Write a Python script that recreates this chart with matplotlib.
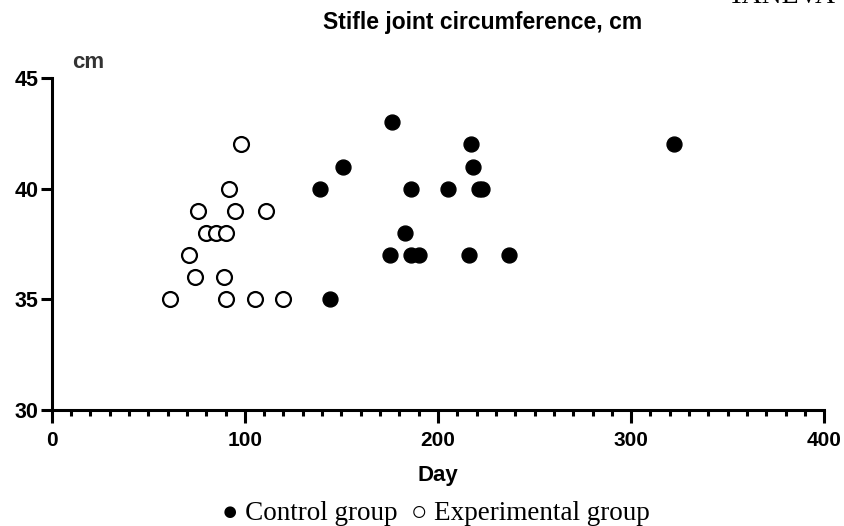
import numpy as np
import matplotlib.pyplot as plt
from matplotlib.ticker import MultipleLocator

# Control group (filled circles): day, circumference (cm)
control_day = [176, 217, 151, 218, 139, 186, 205, 221, 223, 183, 175, 186, 190, 216, 237, 144, 322]
control_cm = [43, 42, 41, 41, 40, 40, 40, 40, 40, 38, 37, 37, 37, 37, 37, 35, 42]

# Experimental group (open circles)
exp_day = [61, 90, 105, 120, 74, 89, 71, 80, 85, 90, 76, 95, 111, 92, 98]
exp_cm = [35, 35, 35, 35, 36, 36, 37, 38, 38, 38, 39, 39, 39, 40, 42]

x_ticks = [0, 100, 200, 300, 400]
y_ticks = [30, 35, 40, 45]

plt.rcParams['font.family'] = ['Liberation Sans', 'DejaVu Sans']

fig = plt.figure(figsize=(8.44, 5.26), dpi=100)
ax = fig.add_axes([51.7 / 844, 116 / 526, (824.3 - 51.7) / 844, (410 - 78) / 526])

ax.scatter(exp_day, exp_cm, s=115, facecolors='white', edgecolors='black', linewidths=1.6, zorder=3, clip_on=False)
ax.scatter(control_day, control_cm, s=115, facecolors='black', edgecolors='black', linewidths=1.0, zorder=4, clip_on=False)

ax.set_xlim(0, 400)
ax.set_ylim(30, 45)
ax.set_xticks(x_ticks)
ax.set_yticks(y_ticks)
ax.xaxis.set_minor_locator(MultipleLocator(10))

for s in ['top', 'right']:
    ax.spines[s].set_visible(False)
for s in ['left', 'bottom']:
    ax.spines[s].set_linewidth(2.2)

ax.tick_params(axis='x', which='major', length=9, width=2.2, labelsize=15, pad=6)
ax.tick_params(axis='x', which='minor', length=4.5, width=2.2)
ax.tick_params(axis='y', which='major', length=8, width=2.2, labelsize=15.5, pad=1.5)
for lbl in ax.get_xticklabels() + ax.get_yticklabels():
    lbl.set_fontweight('bold')

ax.set_xlabel('Day', fontsize=16, fontweight='bold', labelpad=11)
fig.text(483 / 844, 1 - 22 / 526, 'Stifle joint circumference, cm', ha='center', va='center',
         fontsize=16.5, fontweight='bold')
fig.text(88 / 844, 1 - 63 / 526, 'cm', ha='center', va='center', fontsize=16,
         fontweight='bold', color='#333333')
fig.text(222 / 844, 1 - 513 / 526, '\u25cf Control group  \u25cb Experimental group', ha='left',
         va='center', fontsize=19.5, family=['Liberation Serif', 'DejaVu Serif'])
fig.text(728 / 844, 1 - 3 / 526, 'TANEVA', ha='left', va='baseline', fontsize=20,
         family=['Liberation Serif', 'DejaVu Serif'])

fig.savefig('out.png', dpi=100)
